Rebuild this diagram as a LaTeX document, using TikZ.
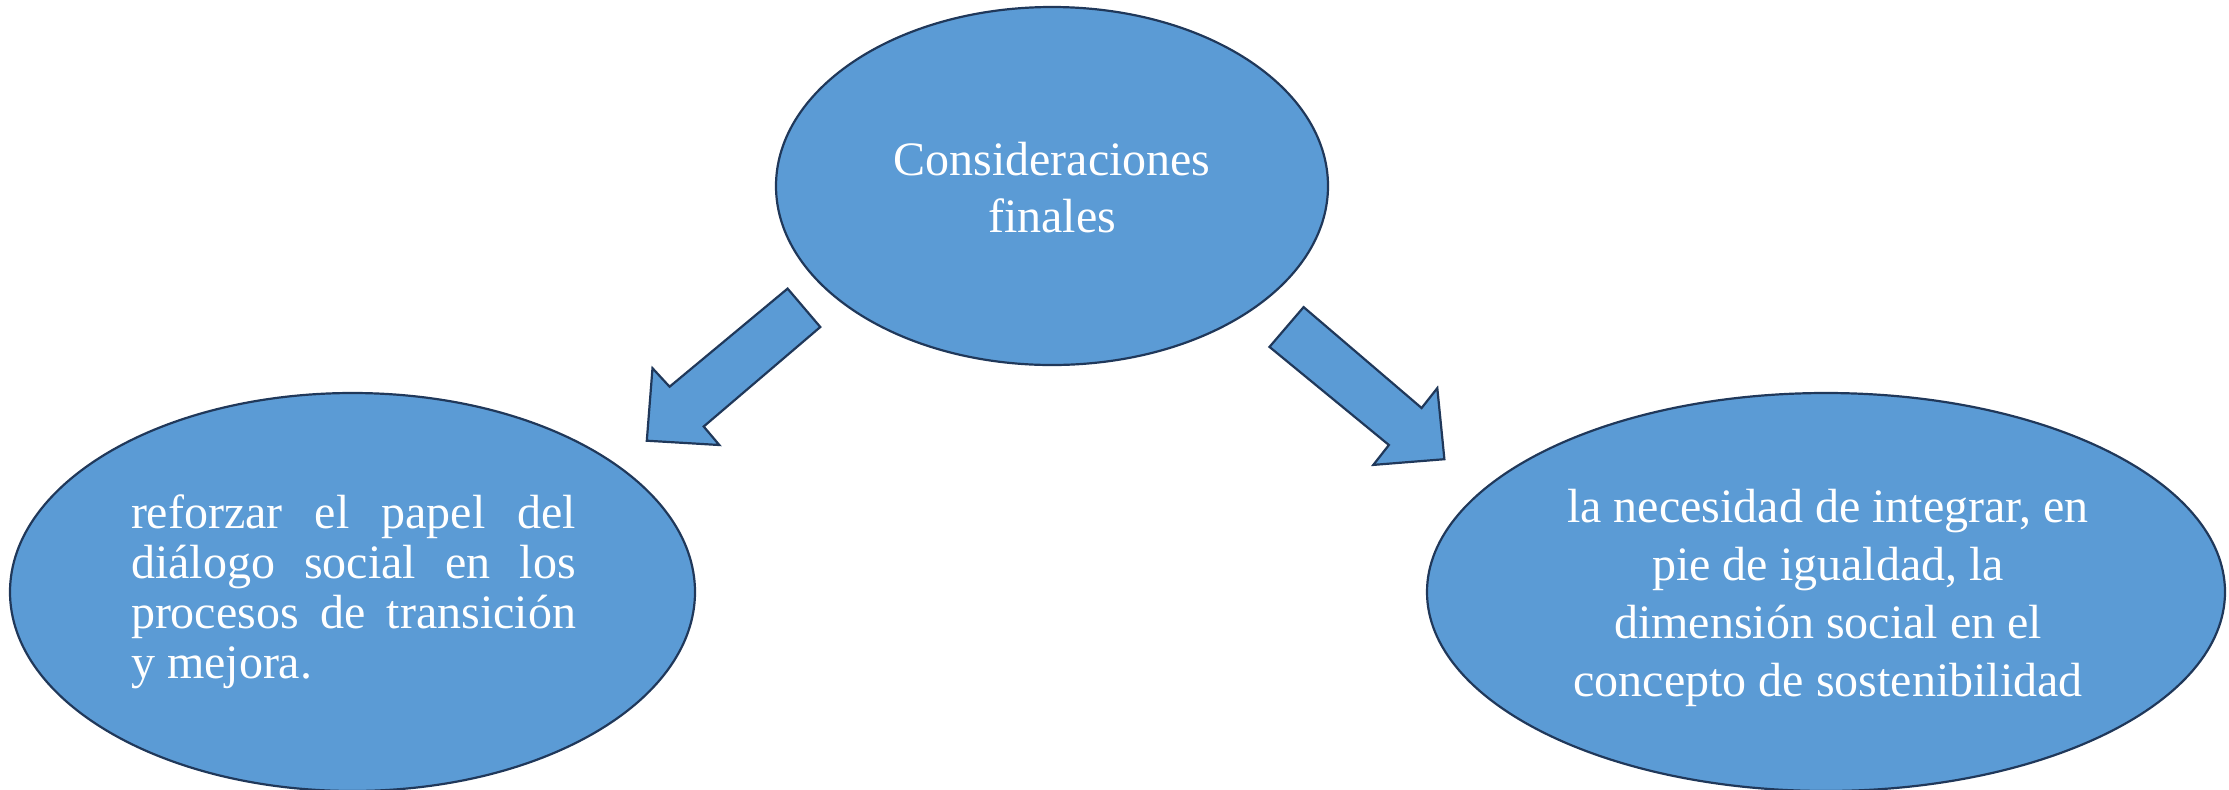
\documentclass[tikz,border=0pt]{standalone}
\usepackage{fontspec}
\setmainfont{Liberation Serif}
\usetikzlibrary{shapes.geometric}
\definecolor{fillblue}{HTML}{5B9BD5}
\definecolor{edgeblue}{RGB}{32,56,90}
\begin{document}
\begin{tikzpicture}[x=0.5pt,y=-0.5pt,
  blob/.style={ellipse, draw=edgeblue, fill=fillblue, line width=1.1pt, inner sep=0pt},
  blockarrow/.style={draw=edgeblue, fill=fillblue, line width=1.1pt, line join=miter},
  txt/.style={text=white, inner sep=0pt, anchor=base, font=\fontsize{24pt}{28.8pt}\selectfont}]
\useasboundingbox (0,0) rectangle (2229,789);
\node[blob, minimum width=276pt, minimum height=179pt] (top) at (1052,186) {};
\node[blob, minimum width=342.5pt, minimum height=199pt] (left) at (352.5,592) {};
\node[blob, minimum width=399pt, minimum height=199pt] (right) at (1826,592) {};
\draw[blockarrow] (787.6,288.6) -- (820.3,327.0) -- (703.7,426.5) -- (719.3,445.0) -- (646.8,440.7) -- (652.5,368.2) -- (669.6,386.7) -- cycle;
\draw[blockarrow] (1303.6,307.1) -- (1421.6,408.0) -- (1437.3,388.1) -- (1444.4,459.2) -- (1373.3,464.9) -- (1388.9,445.0) -- (1269.5,346.9) -- cycle;
\node[txt] (ttop) at (1052,175) {\parbox[t]{220pt}{\centering\baselineskip=28.5pt Consideraciones\\finales}};
\node[txt] (tleft) at (353.5,528) {\parbox[t]{222.5pt}{\baselineskip=25pt \makebox[222.5pt][s]{reforzar el papel del}\\\makebox[222.5pt][s]{diálogo social en los}\\\makebox[222.5pt][s]{procesos de transición}\\y mejora.}};
\node[txt] (tright) at (1828,522) {\parbox[t]{320pt}{\centering\baselineskip=29pt la necesidad de integrar, en\\pie de igualdad, la\\dimensión social en el\\concepto de sostenibilidad}};
\end{tikzpicture}
\end{document}
